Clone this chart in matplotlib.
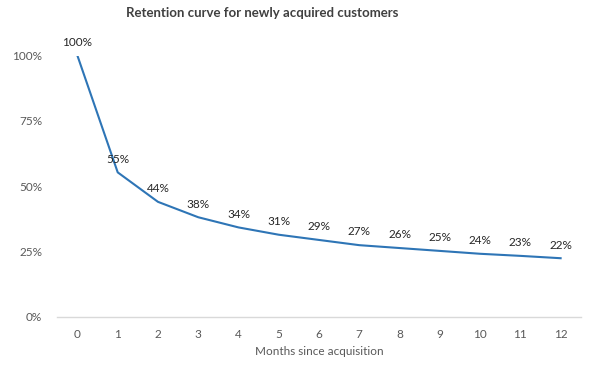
import matplotlib
matplotlib.use("Agg")
from matplotlib import pyplot as plt
from matplotlib.ticker import FuncFormatter

plt.rcParams['font.family'] = ['Lato', 'DejaVu Sans']

months = list(range(13))
retention = [1.00, 0.553, 0.44, 0.381, 0.342, 0.314, 0.294, 0.274, 0.263, 0.252, 0.241, 0.233, 0.224]
y_ticks = [0, 0.25, 0.5, 0.75, 1.0]

text_grey = '#595959'
line_blue = '#2E75B6'

fig = plt.figure(figsize=(5.89, 3.73), dpi=100)
ax = fig.add_axes([0.0973, 0.151, 0.8887, 0.6997])

ax.plot(months, retention, color=line_blue, lw=1.5)
for m, r in zip(months, retention):
    ax.annotate("{:.0f}%".format(r * 100), (m, r), xytext=(0, 9.5), textcoords='offset points',
                ha='center', va='center', fontsize=8.5, color='#262626')

ax.set_xlim(-0.5, 12.5)
ax.set_ylim(0, 1.0)
ax.set_xticks(months)
ax.set_yticks(y_ticks)
ax.yaxis.set_major_formatter(FuncFormatter(lambda v, _: "{:.0f}%".format(v * 100)))
ax.tick_params(axis='both', length=0, labelsize=8.5, colors=text_grey)
ax.tick_params(axis='x', pad=9)
ax.tick_params(axis='y', pad=11)

for side in ['top', 'right', 'left']:
    ax.spines[side].set_visible(False)
ax.spines['bottom'].set_color('#D9D9D9')
ax.spines['bottom'].set_linewidth(1)

ax.set_xlabel("Months since acquisition", fontsize=8.5, color=text_grey, labelpad=4)
fig.text(262 / 589, 1 - 13 / 373, "Retention curve for newly acquired customers",
         ha='center', va='center', fontsize=9.5, fontweight='bold', color='#404040')

fig.savefig("out.png", dpi=100)
